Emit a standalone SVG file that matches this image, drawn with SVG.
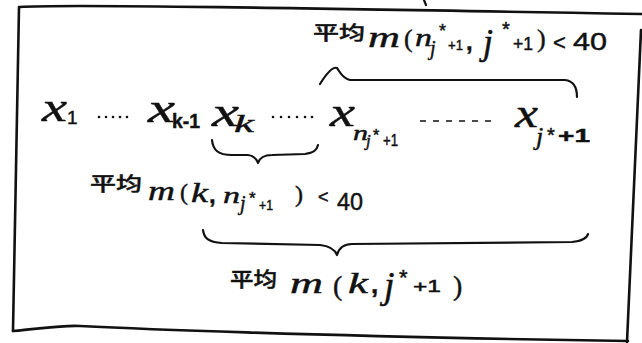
<svg xmlns="http://www.w3.org/2000/svg" width="642" height="343" viewBox="0 0 642 343">
<style>
text{fill:#111;stroke:#111;stroke-width:0.45;}
.v{font-family:"Liberation Serif",serif;font-style:italic;}
.s{font-family:"Liberation Sans",sans-serif;}
.p{font-family:"Liberation Serif",serif;}
.c{font-family:"Noto Sans CJK SC","Liberation Sans",sans-serif;font-weight:500;}
.ln{fill:none;stroke:#111;stroke-width:2.6;stroke-linecap:round;stroke-linejoin:round;}
.br{fill:none;stroke:#111;stroke-width:2.2;stroke-linecap:round;stroke-linejoin:round;}
</style>
<rect width="642" height="343" fill="#fff"/>
<g id="frame">
<path class="ln" d="M20,7 C60,4 300,8 642,14"/>
<path class="ln" d="M19,7 L13,331"/>
<path class="ln" d="M13,331 C40,329 60,325 80,326 C120,328 300,336 628,341"/>
<path class="ln" d="M641,30 L627,342"/>
<path class="br" d="M424,0 L426,5" stroke-width="1.5"/>
</g>
<g id="connectors">
<path class="br" d="M320,84 C325,76 332,66 337,68 C340,72 342,78 350,80 L565,80 C574,81 577,88 577,97"/>
<path class="br" d="M212,140 C213,150 218,155 232,155 L248,155 C255,156 257,160 258,163 C260,157 264,155 272,155 L305,154 C314,153 317,150 318,145"/>
<path class="br" d="M203,230 C204,238 208,242 222,243 L320,245 C330,246 335,250 337,255 C339,248 343,244 352,244 L572,242 C582,241 587,238 588,234"/>
</g>
<g id="sequence">
<text class="v" x="42" y="121" font-size="42" textLength="25" lengthAdjust="spacingAndGlyphs">x</text>
<text class="s" x="67" y="124" font-size="19">1</text>
<g fill="#111"><circle cx="99" cy="117" r="1.3"/><circle cx="106" cy="117" r="1.3"/><circle cx="113" cy="117" r="1.3"/><circle cx="120" cy="117" r="1.3"/><circle cx="127" cy="117" r="1.3"/></g>
<text class="v" x="148" y="122" font-size="42" textLength="27" lengthAdjust="spacingAndGlyphs">x</text>
<text class="s" x="172" y="128" font-size="20" font-weight="bold" textLength="28" lengthAdjust="spacingAndGlyphs">k-1</text>
<text class="v" x="212" y="126" font-size="42" textLength="27" lengthAdjust="spacingAndGlyphs">x</text>
<text class="v" x="234" y="132" font-size="26" textLength="20" lengthAdjust="spacingAndGlyphs">k</text>
<g fill="#111"><circle cx="273" cy="117" r="1.3"/><circle cx="281" cy="117" r="1.3"/><circle cx="289" cy="117" r="1.3"/><circle cx="297" cy="117" r="1.3"/><circle cx="305" cy="117" r="1.3"/><circle cx="312" cy="117" r="1.3"/></g>
<text class="v" x="330" y="126" font-size="42" textLength="25" lengthAdjust="spacingAndGlyphs">x</text>
<text class="v" x="353" y="140" font-size="22" textLength="15" lengthAdjust="spacingAndGlyphs">n</text>
<text class="v" x="366" y="146" font-size="17">j</text>
<text class="s" x="373" y="141" font-size="16">*</text>
<text class="s" x="383" y="146" font-size="16" textLength="15" lengthAdjust="spacingAndGlyphs">+1</text>
<path d="M420,121 H492" fill="none" stroke="#111" stroke-width="1.6" stroke-dasharray="6 7"/>
<text class="v" x="515" y="127" font-size="40" textLength="23" lengthAdjust="spacingAndGlyphs">x</text>
<text class="v" x="536" y="145" font-size="26">j</text>
<text class="s" x="547" y="142" font-size="20">*</text>
<text class="s" x="558" y="142" font-size="18" font-weight="bold" textLength="32" lengthAdjust="spacingAndGlyphs">+1</text>
</g>
<g id="label-top">
<text class="c" x="313" y="40" font-size="19" textLength="52" lengthAdjust="spacingAndGlyphs">平均</text>
<text class="v" x="368" y="47" font-size="30" textLength="32" lengthAdjust="spacingAndGlyphs">m</text>
<text class="p" x="404" y="47" font-size="26">(</text>
<text class="v" x="415" y="46" font-size="26" textLength="17" lengthAdjust="spacingAndGlyphs">n</text>
<text class="v" x="430" y="55" font-size="20">j</text>
<text class="s" x="439" y="37" font-size="18">*</text>
<text class="s" x="448" y="50" font-size="15" textLength="15" lengthAdjust="spacingAndGlyphs">+1</text>
<text class="s" x="466" y="50" font-size="24" font-weight="bold">,</text>
<text class="v" x="483" y="54" font-size="36">j</text>
<text class="s" x="502" y="36" font-size="20">*</text>
<text class="s" x="513" y="50" font-size="18" textLength="20" lengthAdjust="spacingAndGlyphs">+1</text>
<text class="p" x="537" y="47" font-size="26">)</text>
<text class="s" x="553" y="50" font-size="22">&lt;</text>
<text class="s" x="573" y="50" font-size="24" textLength="34" lengthAdjust="spacingAndGlyphs">40</text>
</g>
<g id="label-mid">
<text class="c" x="90" y="191" font-size="19" textLength="52" lengthAdjust="spacingAndGlyphs">平均</text>
<text class="v" x="148" y="200" font-size="28" textLength="27" lengthAdjust="spacingAndGlyphs">m</text>
<text class="p" x="180" y="200" font-size="24">(</text>
<text class="v" x="191" y="202" font-size="28" textLength="17" lengthAdjust="spacingAndGlyphs">k</text>
<text class="s" x="209" y="203" font-size="24" font-weight="bold">,</text>
<text class="v" x="223" y="203" font-size="24" textLength="17" lengthAdjust="spacingAndGlyphs">n</text>
<text class="v" x="240" y="210" font-size="20">j</text>
<text class="s" x="249" y="204" font-size="17">*</text>
<text class="s" x="259" y="210" font-size="14" textLength="14" lengthAdjust="spacingAndGlyphs">+1</text>
<text class="p" x="295" y="202" font-size="24">)</text>
<text class="s" x="318" y="203" font-size="18">&lt;</text>
<text class="s" x="337" y="210" font-size="23" textLength="26" lengthAdjust="spacingAndGlyphs">40</text>
</g>
<g id="label-bottom">
<text class="c" x="230" y="287" font-size="20" textLength="47" lengthAdjust="spacingAndGlyphs">平均</text>
<text class="v" x="290" y="293" font-size="30" textLength="33" lengthAdjust="spacingAndGlyphs">m</text>
<text class="p" x="333" y="295" font-size="28">(</text>
<text class="v" x="348" y="293" font-size="30" textLength="20" lengthAdjust="spacingAndGlyphs">k</text>
<text class="s" x="371" y="293" font-size="26" font-weight="bold">,</text>
<text class="v" x="384" y="298" font-size="38">j</text>
<text class="s" x="399" y="285" font-size="22">*</text>
<text class="s" x="413" y="292" font-size="16" textLength="28" lengthAdjust="spacingAndGlyphs">+1</text>
<text class="p" x="453" y="295" font-size="28">)</text>
</g>
</svg>
